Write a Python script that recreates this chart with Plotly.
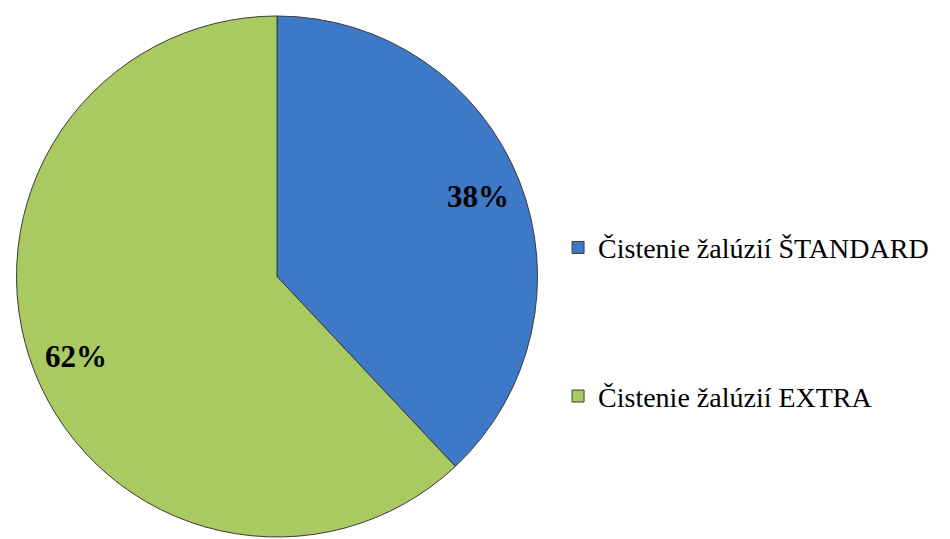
import math
import plotly.graph_objects as go

categories = ["Čistenie žalúzií ŠTANDARD", "Čistenie žalúzií EXTRA"]
values = [38, 62]
colors = ["#3D79C6", "#A9C961"]

W, H = 950, 539
OFF = 8  # page body margin shifts the figure
cx, cy, r = 277 - OFF, 276.5 - OFF, 260.5

# extra blank lines after every entry but the last to spread the legend
legend_labels = [c + ("<br> <br> <br> " if i < len(categories) - 1 else "")
                 for i, c in enumerate(categories)]

fig = go.Figure()
fig.add_trace(go.Pie(
    labels=legend_labels,
    values=values,
    sort=False,
    direction="clockwise",
    rotation=0,
    marker=dict(colors=colors, line=dict(color="#3a3a3a", width=1)),
    textinfo="none",
    hoverinfo="label+percent",
    domain=dict(x=[(cx - r) / W, (cx + r) / W], y=[1 - (cy + r) / H, 1 - (cy - r) / H]),
))

total = sum(values)
cum = 0
for v in values:
    mid = (cum + v / 2) / total * 2 * math.pi
    cum += v
    px = cx + 0.83 * r * math.sin(mid)
    py = cy - 0.83 * r * math.cos(mid)
    fig.add_annotation(
        x=px / W, y=1 - py / H, xref="paper", yref="paper",
        xanchor="center", yanchor="middle",
        text=f"<b>{round(v / total * 100)}%</b>", showarrow=False,
        font=dict(family="Liberation Serif", size=31, color="black"),
    )

fig.update_layout(
    width=W, height=H,
    margin=dict(l=0, r=0, t=0, b=0),
    paper_bgcolor="white",
    plot_bgcolor="white",
    showlegend=True,
    legend=dict(
        x=0.579, y=0.6016, xanchor="left", yanchor="top",
        font=dict(family="Liberation Serif", size=28, color="black"),
        valign="top", itemwidth=30,
    ),
)

fig.write_html("out.html")
